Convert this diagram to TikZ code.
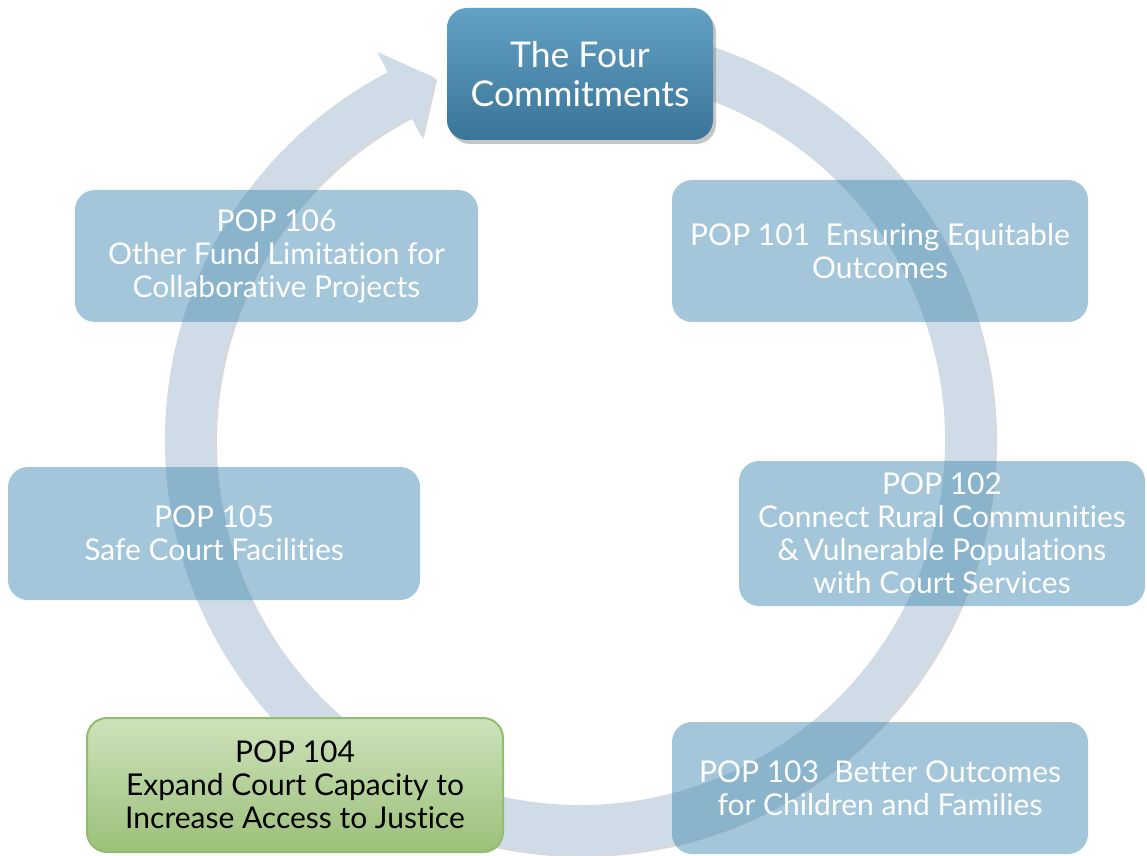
\documentclass[tikz,border=0pt]{standalone}
\usepackage{fontspec}
\setmainfont{Lato}[Ligatures=NoCommon]
\usetikzlibrary{shadows,shapes.misc}
\definecolor{ringc}{HTML}{CFDBE6}
\definecolor{popfill}{HTML}{3E86B0}
\definecolor{titletop}{HTML}{62A0C4}
\definecolor{titlebot}{HTML}{3A7599}
\definecolor{greentop}{HTML}{CDE2BA}
\definecolor{greenbot}{HTML}{9CC07A}
\definecolor{greenline}{HTML}{93BD6E}
\tikzset{
  popbox/.style={rectangle, rounded corners=20pt, fill=popfill, fill opacity=0.47,
    text opacity=1, text=white, align=center, inner sep=0pt,
    font=\fontsize{30}{33}\selectfont},
  titlebox/.style={rectangle, rounded corners=20pt, top color=titletop, bottom color=titlebot,
    text=white, align=center, inner sep=0pt, font=\fontsize{35.5}{39}\selectfont,
    drop shadow={opacity=0.45, shadow xshift=3pt, shadow yshift=-4pt}},
  greenbox/.style={rectangle, rounded corners=20pt, top color=greentop, bottom color=greenbot,
    draw=greenline, line width=2pt, text=black, align=center, inner sep=0pt,
    font=\fontsize{30}{33}\selectfont},
}
\begin{document}
\begin{tikzpicture}[x=1pt,y=1pt]
\useasboundingbox (0,0) rectangle (1147,855);
% ring arrow
\coordinate (c) at (580,415);
\fill[ringc, drop shadow={opacity=0.3, shadow xshift=2pt, shadow yshift=-2pt}]
  ([shift={(80:415)}]c) arc[start angle=80, end angle=-242.4, radius=415]
  -- ([shift={(-242.4:438)}]c) -- ([shift={(-248.2:390)}]c) -- ([shift={(-242.4:342)}]c)
  -- ([shift={(-242.4:365)}]c) arc[start angle=-242.4, end angle=80, radius=365] -- cycle;
% boxes
\node[titlebox, minimum width=266pt, minimum height=132pt] (title) at (580,781) {The Four\\Commitments};
\node[popbox, minimum width=416pt, minimum height=142pt] (p101) at (880,604) {POP 101\ \ Ensuring Equitable\\Outcomes};
\node[popbox, minimum width=406pt, minimum height=145pt] (p102) at (942,321.5) {POP 102\\Connect Rural Communities\\\&\,Vulnerable Populations\\with Court Services};
\node[popbox, minimum width=416pt, minimum height=132pt] (p103) at (880,67) {POP 103\ \ Better Outcomes\\for Children and Families};
\node[greenbox, minimum width=416pt, minimum height=134pt] (p104) at (295,70) {POP 104\\Expand Court Capacity to\\Increase Access to Justice};
\node[popbox, minimum width=412pt, minimum height=133pt] (p105) at (214,321.5) {POP 105\\Safe Court Facilities};
\node[popbox, minimum width=403pt, minimum height=132pt] (p106) at (276.5,599) {POP 106\\Other Fund Limitation for\\Collaborative Projects};
\end{tikzpicture}
\end{document}
